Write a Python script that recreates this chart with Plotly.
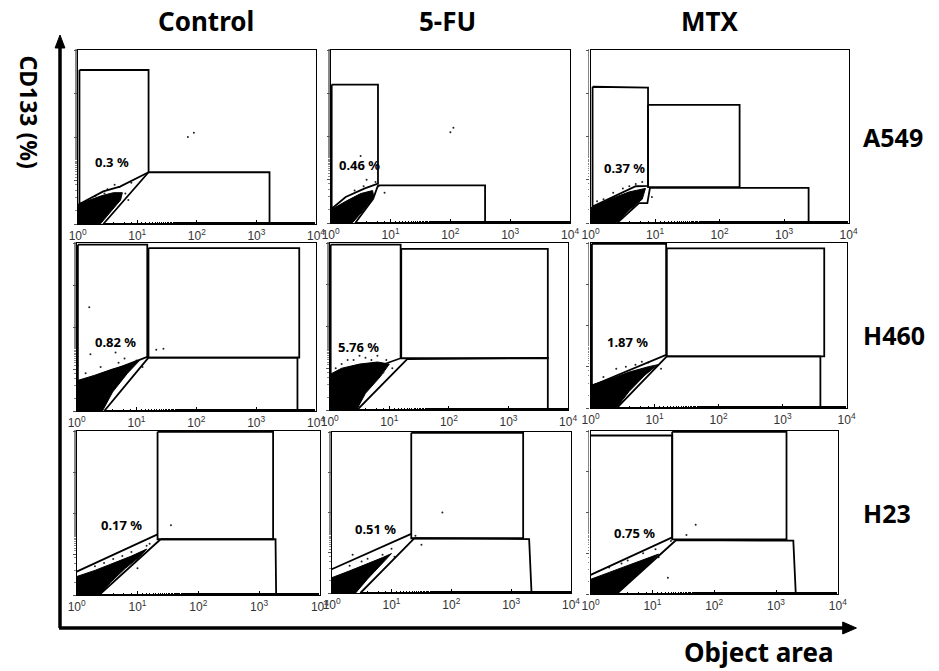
import plotly.graph_objects as go

W, H = 939, 671

COLUMNS = ["Control", "5-FU", "MTX"]
ROWS = ["A549", "H460", "H23"]
X_TICK_EXP = [0, 1, 2, 3, 4]

# percentage labels per panel (row-major: A549 Control, 5-FU, MTX, H460 ..., H23 ...)
PCT_TEXT = ["0.3 %", "0.46 %", "0.37 %", "0.82 %", "5.76 %", "1.87 %", "0.17 %", "0.51 %", "0.75 %"]
PCT_LOGX = [0.57, 0.48, 0.52, 0.65, 0.49, 0.58, 0.73, 0.73, 0.71]
PCT_LOGY = [1.42, 1.34, 1.28, 1.65, 1.52, 1.61, 1.71, 1.60, 1.50]

# gate outlines (log10 object area, log10 CD133)
GATE_LOGX = [
    [[0.03, 1.19, 1.19, 0.71, 0.43, 0.03, 0.03], [1.19, 3.22, 3.22, 0.43, 1.19]],
    [[0.016, 0.79, 0.79, 0.57, 0.25, 0.016, 0.016], [0.79, 2.58, 2.58, 0.41, 0.71, 0.79]],
    [[0.03, 0.89, 0.89, 0.70, 0.03, 0.03], [0.89, 2.31, 2.31, 0.89, 0.89], [0.92, 3.38, 3.38, 0.41, 0.75, 0.88, 0.92]],
    [[0.02, 1.18, 1.18, 0.02, 0.02], [1.2, 3.72, 3.72, 1.2, 1.2], [1.2, 3.69, 3.69, 0.46, 1.2]],
    [[0.016, 1.19, 1.19, 0.016, 0.016], [1.20, 3.66, 3.66, 1.20, 1.20], [1.30, 3.66, 3.66, 0.46, 1.30]],
    [[0.02, 1.18, 1.18, 0.02, 0.02], [1.19, 3.65, 3.65, 1.19, 1.19], [1.19, 3.59, 3.59, 0.41, 1.19]],
    [[1.33, 0.0], [1.33, 3.23, 3.23, 1.33, 1.33], [1.38, 3.27, 3.28, 0.37, 1.38]],
    [[1.33, 0.0], [1.33, 3.20, 3.20, 1.33, 1.33], [1.38, 3.30, 3.34, 0.48, 1.38]],
    [[0.0, 1.32, 1.32, 0.0], [1.32, 3.17, 3.17, 1.32, 1.32], [1.38, 3.28, 3.32, 0.42, 1.38]],
]
GATE_LOGY = [
    [[3.54, 3.54, 1.19, 0.86, 0.75, 0.46, 3.54], [1.19, 1.19, 0, 0, 1.19]],
    [[3.2, 3.2, 0.91, 0.80, 0.60, 0.33, 3.2], [0.87, 0.87, 0, 0, 0.56, 0.87]],
    [[3.15, 3.13, 0.86, 0.85, 0.38, 3.15], [2.73, 2.73, 0.83, 0.83, 2.73], [0.81, 0.81, 0, 0, 0.46, 0.46, 0.81]],
    [[3.96, 3.96, 1.29, 0.65, 3.96], [3.88, 3.88, 1.27, 1.27, 3.88], [1.27, 1.27, 0, 0, 1.27]],
    [[3.96, 3.96, 1.24, 0.64, 3.96], [3.86, 3.86, 1.24, 1.24, 3.86], [1.22, 1.25, 0, 0, 1.22]],
    [[3.98, 3.98, 1.29, 0.54, 3.98], [3.87, 3.87, 1.25, 1.25, 3.87], [1.25, 1.25, 0, 0, 1.25]],
    [[1.48, 0.57], [3.98, 3.98, 1.36, 1.36, 3.98], [1.36, 1.36, 0, 0, 1.36]],
    [[1.47, 0.59], [3.98, 3.98, 1.36, 1.36, 3.98], [1.36, 1.34, 0, 0, 1.36]],
    [[3.89, 3.89, 1.39, 0.47], [3.98, 3.98, 1.34, 1.34, 3.98], [1.32, 1.31, 0, 0, 1.32]],
]

# outline of the dense cell population (log10 values)
BLOB_LOGX = [
    [0, 0, 0.2, 0.4, 0.6, 0.75, 0.72, 0.55, 0.38, 0],
    [0, 0, 0.25, 0.5, 0.7, 0.72, 0.55, 0.36, 0],
    [0, 0, 0.3, 0.6, 0.85, 0.8, 0.6, 0.39, 0],
    [0, 0, 0.3, 0.6, 0.9, 1.05, 0.85, 0.6, 0.43, 0],
    [0, 0, 0.2, 0.5, 0.8, 1.0, 0.85, 0.6, 0.45, 0],
    [0, 0, 0.3, 0.6, 0.9, 1.05, 0.85, 0.6, 0.4, 0],
    [0, 0, 0.3, 0.6, 0.9, 1.15, 1.05, 0.8, 0.55, 0.38, 0],
    [0, 0, 0.3, 0.6, 0.85, 1.0, 0.85, 0.6, 0.4, 0],
    [0, 0, 0.3, 0.6, 0.9, 1.1, 0.95, 0.7, 0.42, 0],
]
BLOB_LOGY = [
    [0, 0.45, 0.55, 0.65, 0.72, 0.72, 0.55, 0.28, 0, 0],
    [0, 0.3, 0.5, 0.68, 0.75, 0.6, 0.3, 0, 0],
    [0, 0.35, 0.55, 0.72, 0.8, 0.55, 0.3, 0, 0],
    [0, 0.72, 0.85, 1.0, 1.12, 1.2, 0.9, 0.45, 0, 0],
    [0, 0.85, 1.0, 1.1, 1.15, 1.1, 0.8, 0.4, 0, 0],
    [0, 0.55, 0.7, 0.87, 1.0, 1.05, 0.8, 0.4, 0, 0],
    [0, 0.45, 0.6, 0.78, 0.95, 1.12, 0.95, 0.65, 0.3, 0, 0],
    [0, 0.38, 0.55, 0.72, 0.88, 0.98, 0.75, 0.35, 0, 0],
    [0, 0.36, 0.53, 0.7, 0.88, 0.98, 0.75, 0.4, 0, 0],
]

# scattered single events (log10 values)
EVENT_LOGX = [
    [0.62, 0.7, 0.5, 0.8, 0.9, 0.45, 1.85, 1.95, 0.3, 0.85],
    [0.55, 0.6, 0.75, 0.5, 0.9, 2.0, 2.05, 0.4, 0.8],
    [0.2, 0.5, 0.7, 0.8, 0.1, 0.35, 0.95, 0.6],
    [0.21, 0.23, 1.33, 1.45, 0.65, 0.4, 0.8, 1.0, 0.15, 1.1, 0.7],
    [0.3, 0.6, 0.8, 0.5, 0.1, 0.95, 1.05, 0.2, 0.4, 0.7, 0.9],
    [0.4, 0.7, 0.9, 1.0, 0.2, 0.55, 1.1, 0.8],
    [0.3, 0.6, 0.9, 1.15, 1.0, 1.55, 0.45, 1.2, 0.75],
    [0.3, 0.6, 0.85, 1.0, 1.4, 1.5, 0.5, 0.35, 1.05, 1.85],
    [0.3, 0.6, 0.85, 1.05, 1.55, 1.7, 1.3, 1.25, 0.5, 1.1],
]
EVENT_LOGY = [
    [0.9, 0.85, 0.8, 0.7, 0.95, 0.7, 2.0, 2.1, 0.65, 0.55],
    [0.85, 1.0, 0.95, 1.55, 0.7, 2.1, 2.2, 0.75, 0.85],
    [0.55, 0.8, 0.9, 0.95, 0.5, 0.7, 0.6, 0.85],
    [2.47, 1.35, 1.46, 1.48, 1.39, 1.05, 1.25, 1.2, 0.9, 1.05, 1.15],
    [1.2, 1.25, 1.3, 1.3, 1.0, 1.2, 1.0, 1.1, 1.2, 1.2, 0.9],
    [0.95, 1.05, 1.1, 1.0, 0.75, 1.0, 0.95, 1.12],
    [0.7, 0.88, 1.05, 1.2, 0.65, 1.7, 0.78, 1.25, 0.95],
    [0.68, 0.85, 0.95, 1.1, 1.42, 1.2, 0.78, 0.95, 0.9, 2.0],
    [0.65, 0.82, 1.0, 1.1, 1.45, 1.7, 1.3, 0.4, 0.75, 0.9],
]

# panel boxes in pixels: left, right, top, bottom
PANEL_PX = [
    (70, 313, 50, 224), (328, 572, 50, 223), (593, 856, 50, 223),
    (69, 313, 243, 411), (327, 570, 243, 410), (593, 854, 243, 408),
    (69, 317, 431, 595), (329, 573, 432, 593), (593, 845, 431, 594),
]


def px(x):
    return x / W


def py(y):
    return 1 - y / H


fig = go.Figure()
layout = {}
annotations = []

for i in range(9):
    n = "" if i == 0 else str(i + 1)
    xa, ya = "x" + n, "y" + n
    l, r, t, b = PANEL_PX[i]
    layout["xaxis" + n] = dict(
        type="log", range=[0, 4], domain=[px(l), px(r)], anchor=ya,
        showline=True, linecolor="black", linewidth=1.3, mirror=True,
        showgrid=False, zeroline=False,
        tickvals=[10 ** e for e in X_TICK_EXP],
        ticktext=["10<sup>%d</sup>" % e for e in X_TICK_EXP],
        ticks="inside", ticklen=4, tickcolor="black",
        minor=dict(ticks="inside", ticklen=2, tickcolor="black", showgrid=False),
        tickfont=dict(family="Liberation Sans", size=12, color="#333333"),
        fixedrange=True,
    )
    layout["yaxis" + n] = dict(
        type="log", range=[0, 4], domain=[py(b), py(t)], anchor=xa,
        showline=True, linecolor="black", linewidth=1.3, mirror=True,
        showgrid=False, zeroline=False, showticklabels=False,
        tickvals=[10 ** e for e in X_TICK_EXP],
        ticks="outside", ticklen=3, tickcolor="#555555",
        minor=dict(ticks="outside", ticklen=1.5, tickcolor="#888888", showgrid=False),
        fixedrange=True,
    )
    # dense population
    fig.add_trace(go.Scatter(
        x=[10 ** v for v in BLOB_LOGX[i]], y=[10 ** v for v in BLOB_LOGY[i]],
        xaxis=xa, yaxis=ya, mode="lines", fill="toself",
        fillcolor="black", line=dict(color="black", width=1), showlegend=False,
        hoverinfo="skip",
    ))
    # single events
    fig.add_trace(go.Scatter(
        x=[10 ** v for v in EVENT_LOGX[i]], y=[10 ** v for v in EVENT_LOGY[i]],
        xaxis=xa, yaxis=ya, mode="markers",
        marker=dict(color="#222222", size=2), showlegend=False, hoverinfo="skip",
    ))
    # gates
    for gx, gy in zip(GATE_LOGX[i], GATE_LOGY[i]):
        fig.add_trace(go.Scatter(
            x=[10 ** v for v in gx], y=[10 ** v for v in gy],
            xaxis=xa, yaxis=ya, mode="lines",
            line=dict(color="black", width=1.8), showlegend=False, hoverinfo="skip",
        ))
    annotations.append(dict(
        x=PCT_LOGX[i], y=PCT_LOGY[i], xref=xa, yref=ya, text="<b>%s</b>" % PCT_TEXT[i],
        xanchor="center", yanchor="middle",
        showarrow=False, font=dict(family="Noto Sans", size=13, color="black"),
    ))

TITLE_FONT = dict(family="Noto Sans", size=26, color="black")
COL_CX = [201, 447, 715]
for name, cx in zip(COLUMNS, COL_CX):
    annotations.append(dict(x=px(cx), y=py(21), xref="paper", yref="paper",
                            xanchor="center", yanchor="middle",
                            text="<b>%s</b>" % name, showarrow=False, font=TITLE_FONT))
ROW_CY = [137, 335, 513]
for name, cy in zip(ROWS, ROW_CY):
    annotations.append(dict(x=px(869), y=py(cy), xref="paper", yref="paper",
                            xanchor="left", yanchor="middle",
                            text="<b>%s</b>" % name, showarrow=False,
                            font=dict(family="Noto Sans", size=25, color="black")))

annotations.append(dict(x=px(20), y=py(112), xref="paper", yref="paper",
                        xanchor="center", yanchor="middle",
                        text="<b>CD133 (%)</b>", textangle=90, showarrow=False,
                        font=dict(family="Noto Sans", size=23, color="black")))
annotations.append(dict(x=px(843), y=py(652), xref="paper", yref="paper",
                        xanchor="right", yanchor="middle",
                        text="<b>Object area</b>", showarrow=False, font=TITLE_FONT))

shapes = [
    dict(type="line", xref="paper", yref="paper", x0=px(52), x1=px(52), y0=py(628), y1=py(46),
         line=dict(color="black", width=3.5)),
    dict(type="path", xref="paper", yref="paper",
         path="M %f,%f L %f,%f L %f,%f Z" % (px(47), py(48), px(57), py(48), px(52), py(35)),
         fillcolor="black", line=dict(color="black", width=1)),
    dict(type="line", xref="paper", yref="paper", x0=px(51), x1=px(852), y0=py(628), y1=py(628),
         line=dict(color="black", width=3.5)),
    dict(type="path", xref="paper", yref="paper",
         path="M %f,%f L %f,%f L %f,%f Z" % (px(850), py(622), px(850), py(634), px(864), py(628)),
         fillcolor="black", line=dict(color="black", width=1)),
]

fig.update_layout(
    width=W, height=H, margin=dict(l=0, r=0, t=0, b=0),
    paper_bgcolor="white", plot_bgcolor="white",
    annotations=annotations, shapes=shapes, showlegend=False,
    **layout,
)

fig.write_html(
    "out.html",
    config={"displayModeBar": False},
    post_script="document.body.style.margin='0';document.body.style.overflow='hidden';",
)
